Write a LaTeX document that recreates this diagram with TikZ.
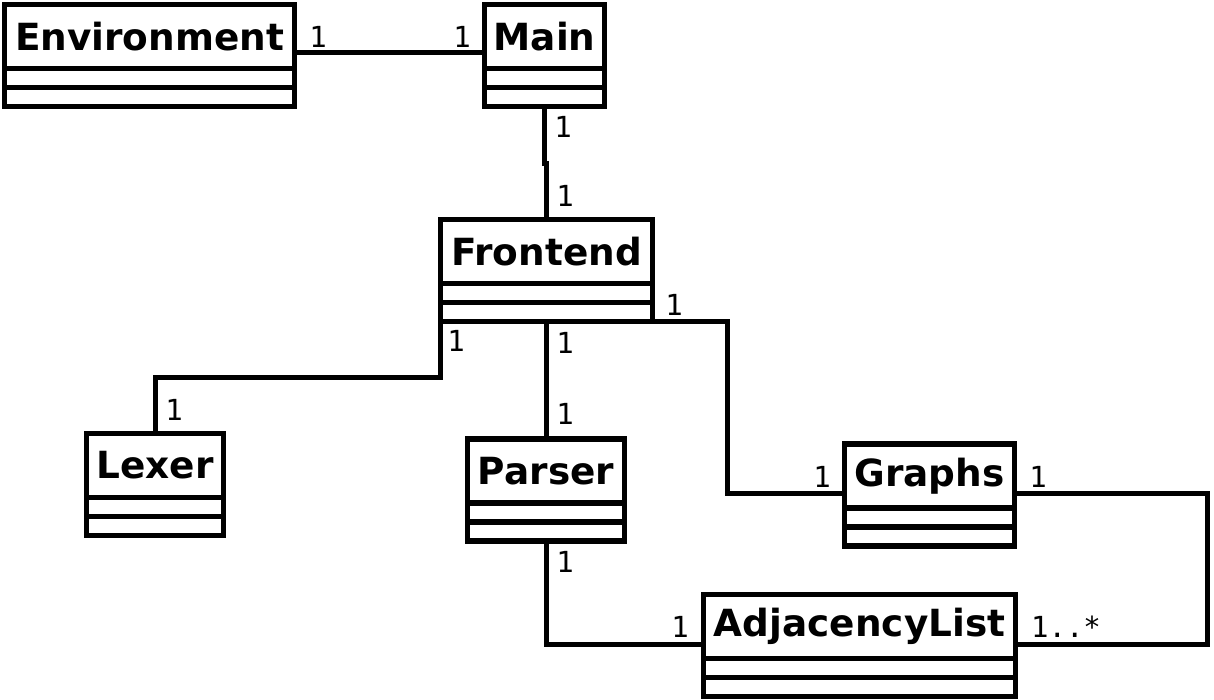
\documentclass[tikz,border=0pt]{standalone}
\usepackage{fontspec}
\setmainfont{DejaVu Sans}
\newfontfamily\multfont{DejaVu Sans Mono}
\tikzset{
  clsbox/.style={draw, line width=5.5pt, rectangle, inner sep=0pt, outer sep=0pt},
  clstitle/.style={clsbox, minimum height=64pt, font=\bfseries\fontsize{37.4}{40}\selectfont},
  clscomp/.style={clsbox, minimum height=19pt},
  conn/.style={line width=5pt},
  mult/.style={inner sep=0pt, font=\multfont\fontsize{29}{32}\selectfont}
}
\newcommand\umlcls[5]{%
  \node[clstitle, minimum width={#5pt-#3pt}, anchor=north west] (#1) at (#3,#4) {#2};
  \node[clscomp, minimum width={#5pt-#3pt}, anchor=north] (#1-a) at (#1.south) {};
  \node[clscomp, minimum width={#5pt-#3pt}, anchor=north] (#1-b) at (#1-a.south) {};
}
\begin{document}
\begin{tikzpicture}[x=1pt, y=-1pt]
\useasboundingbox[fill=white] (0,0) rectangle (1214,700);
\umlcls{env}{Environment}{4.5}{4.5}{294.5}
\umlcls{main}{Main}{484.5}{4.5}{604.5}
\umlcls{fe}{Frontend}{440.5}{219.5}{652.5}
\umlcls{lex}{Lexer}{86.5}{433.5}{223.5}
\umlcls{par}{Parser}{467.5}{439}{624.5}
\umlcls{gr}{Graphs}{844.5}{444}{1014.5}
\umlcls{adj}{AdjacencyList}{703.5}{594.5}{1015.5}
% connectors
\draw[conn] ([yshift=-48.5pt]env.north east) -- ([yshift=-48.5pt]main.north west);
\draw[conn] (main-b.south) -- ++(0,57) -| (fe.north);
\draw[conn] (fe-b.south west) -- ++(0,56) -| (lex.north);
\draw[conn] (fe-b.south) -- (fe-b.south |- par.north);
\draw[conn] (fe-b.south east) -- ++(74.5,0) |- ([yshift=-49pt]gr.north west);
\draw[conn] ([yshift=-49pt]gr.north east) -- ++(192.5,0) |- ([yshift=-49.5pt]adj.north east);
\draw[conn] (par-b.south) |- ([yshift=-49.5pt]adj.north west);
% multiplicities
\node[mult] (m1) at (318,37) {1};
\node[mult] (m2) at (462,37) {1};
\node[mult] (m3) at (563,127) {1};
\node[mult] (m4) at (565,196) {1};
\node[mult] (m5) at (456,341) {1};
\node[mult] (m6) at (174,410) {1};
\node[mult] (m7) at (565,343) {1};
\node[mult] (m8) at (565,414) {1};
\node[mult] (m9) at (674,305) {1};
\node[mult] (m10) at (822,477) {1};
\node[mult] (m11) at (1038,477) {1};
\node[mult] (m12) at (1066,627) {1..*};
\node[mult] (m13) at (565,562) {1};
\node[mult] (m14) at (680,627) {1};
\end{tikzpicture}
\end{document}
